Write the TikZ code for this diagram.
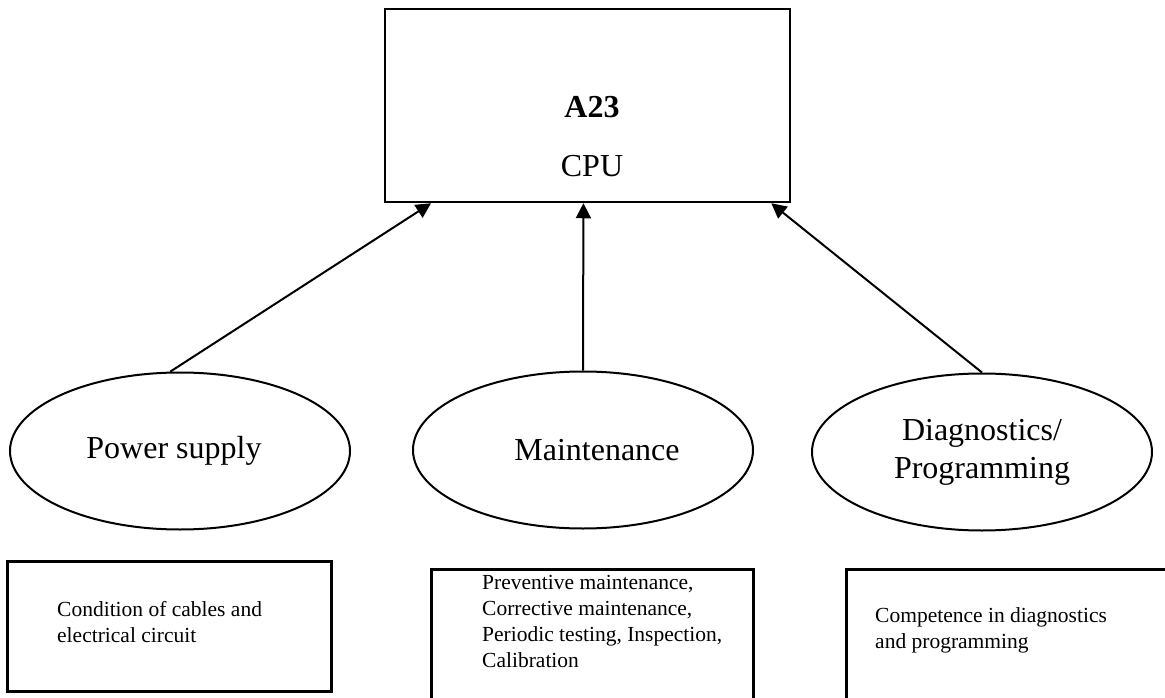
\documentclass[tikz,border=0pt]{standalone}
\usepackage{fontspec}
\setmainfont{Liberation Serif}
\usetikzlibrary{shapes.geometric,arrows.meta,calc}

\tikzset{
  bigtext/.style={font=\fontsize{32}{38}\selectfont},
  smalltext/.style={font=\fontsize{21.5}{26}\selectfont, align=left, inner sep=0pt},
  panel/.style={draw, line width=2.5pt, inner sep=0pt},
  topic/.style={draw, ellipse, line width=2pt, minimum width=340pt, minimum height=157pt,
    inner sep=0pt, bigtext, align=center},
  feed/.style={line width=2pt, -{Triangle[length=15pt,width=15pt]}}
}

\begin{document}
\begin{tikzpicture}[x=1pt,y=-1pt]
  \useasboundingbox (0,0) rectangle (1165,698);
  \clip (0,0) rectangle (1165,698);

  % central unit
  \node[panel, minimum width=405pt, minimum height=193pt] (cpu) at (587.5,105.5) {};
  \node[bigtext, anchor=base, inner sep=0pt] (cpuid) at (592,118) {\textbf{A23}};
  \node[bigtext, anchor=base, inner sep=0pt] (cpuname) at (592,177) {CPU};

  % influencing factors
  \node[topic] (power) at (180,451) {Power supply\hspace*{12pt}};
  \node[topic] (maint) at (583,450) {\hspace*{28pt}Maintenance};
  \node[topic] (diag) at (982,452) {Diagnostics/\\Programming};

  % arrow tips on the lower edge of the central unit
  \coordinate (tipL) at ($(cpu.south west)!0.116!(cpu.south east)$);
  \coordinate (tipM) at ($(cpu.south west)!0.49!(cpu.south east)$);
  \coordinate (tipR) at ($(cpu.south west)!0.951!(cpu.south east)$);

  \draw[feed] (power.97) -- (tipL);
  \draw[feed] (maint.north) -- (tipM);
  \draw[feed] (diag.north) -- (tipR);

  % detail boxes
  \node[panel, anchor=north west, minimum width=324pt, minimum height=130pt] (dpower) at (6,560) {};
  \node[panel, anchor=north west, minimum width=322pt, minimum height=160pt] (dmaint) at (430,568) {};
  \node[panel, anchor=north west, minimum width=340pt, minimum height=160pt] (ddiag) at (845,568) {};

  % texts, placed by the baseline of their last line
  \node[smalltext, anchor=base west] (tpower) at (57,642)
    {Condition of cables and\\electrical circuit};
  \node[smalltext, anchor=base west] (tmaint) at (482,667)
    {Preventive maintenance,\\Corrective maintenance,\\Periodic testing, Inspection,\\Calibration};
  \node[smalltext, anchor=base west] (tdiag) at (875,648)
    {Competence in diagnostics\\and programming};
\end{tikzpicture}
\end{document}
